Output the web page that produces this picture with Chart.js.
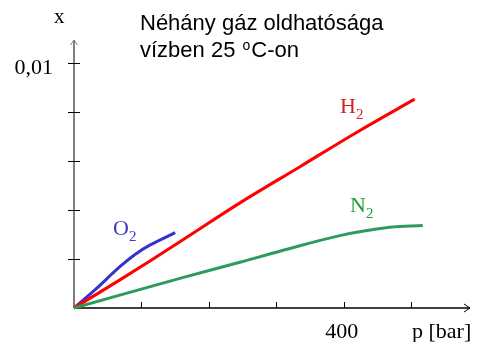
<!DOCTYPE html>
<html><head><meta charset="utf-8">
<script src="https://cdn.jsdelivr.net/npm/chart.js@4"></script>
<style>html,body{margin:0;padding:0;background:#fff}canvas{display:block}</style>
</head><body>
<canvas id="c" width="478" height="342"></canvas>
<script>
// ---- data ----
const titleLine1 = "Néhány gáz oldhatósága";
const titleLine2 = ["vízben 25 ", "o", "C-on"];
const yAxisTitle = "x";
const xAxisTitle = "p [bar]";
const xTicks = [100, 200, 300, 400, 500];
const xTickLabels = ["", "", "", "400", ""];
const yTicks = [0.002, 0.004, 0.006, 0.008, 0.01];
const yTickLabels = ["", "", "", "", "0,01"];

const h2Pressure = [0, 68, 157, 246, 335, 420, 505];
const h2Fraction = [0, 0.00115, 0.00271, 0.0043, 0.00578, 0.0072, 0.00854];
const o2Pressure = [0, 31, 68, 90, 113, 150];
const o2Fraction = [0, 0.00074, 0.00169, 0.00218, 0.00258, 0.00308];
const n2Pressure = [0, 157, 246, 305, 394, 468, 517];
const n2Fraction = [0, 0.00121, 0.00187, 0.00232, 0.00296, 0.0033, 0.00337];

const seriesNames = ["H", "O", "N"];
const seriesSub = "2";

const pts = (xs, ys) => xs.map((x, i) => ({x: x, y: ys[i]}));

const SERIF = '"Liberation Serif", "Times New Roman", serif';
const SANS = '"Liberation Sans", Arial, sans-serif';

const decor = {
  id: 'decor',
  beforeDatasetsDraw(chart) {
    const {ctx, chartArea: a, scales: {x, y}} = chart;
    const x0 = x.getPixelForValue(0), y0 = y.getPixelForValue(0);
    ctx.save();
    // y axis (grey) with arrow
    ctx.strokeStyle = '#808080'; ctx.lineWidth = 2;
    ctx.beginPath(); ctx.moveTo(x0, y0); ctx.lineTo(x0, a.top); ctx.stroke();
    ctx.lineWidth = 1;
    ctx.beginPath(); ctx.moveTo(x0 - 3.5, a.top + 5); ctx.lineTo(x0, a.top); ctx.lineTo(x0 + 3.5, a.top + 5); ctx.stroke();
    // x axis (black) with arrow
    ctx.strokeStyle = '#000'; ctx.lineWidth = 1.5;
    ctx.beginPath(); ctx.moveTo(x0, y0); ctx.lineTo(a.right, y0); ctx.stroke();
    ctx.lineWidth = 1;
    ctx.beginPath(); ctx.moveTo(a.right - 6, y0 - 4); ctx.lineTo(a.right, y0); ctx.lineTo(a.right - 6, y0 + 4); ctx.stroke();
    // ticks
    ctx.lineWidth = 1;
    yTicks.forEach(v => {
      const py = Math.round(y.getPixelForValue(v)) + 0.5;
      ctx.beginPath(); ctx.moveTo(x0 - 6, py); ctx.lineTo(x0 + 6, py); ctx.stroke();
    });
    xTicks.forEach(v => {
      const px = Math.round(x.getPixelForValue(v)) + 0.5;
      ctx.beginPath(); ctx.moveTo(px, y0); ctx.lineTo(px, y0 - 6); ctx.stroke();
    });
    ctx.restore();
  },
  afterDraw(chart) {
    const {ctx, chartArea: a, scales: {x, y}} = chart;
    const x0 = x.getPixelForValue(0), y0 = y.getPixelForValue(0);
    ctx.save();
    ctx.fillStyle = '#000';
    // tick labels
    ctx.font = '22px ' + SERIF;
    ctx.textBaseline = 'alphabetic';
    ctx.textAlign = 'right';
    yTicks.forEach((v, i) => {
      if (yTickLabels[i]) ctx.fillText(yTickLabels[i], x0 - 21, y.getPixelForValue(v) + 11);
    });
    ctx.textAlign = 'center';
    xTicks.forEach((v, i) => {
      if (xTickLabels[i]) ctx.fillText(xTickLabels[i], x.getPixelForValue(v) - 2, y0 + 30);
    });
    // axis titles
    ctx.textAlign = 'left';
    ctx.fillText(xAxisTitle, 412, y0 + 30);
    ctx.font = '21px ' + SERIF;
    ctx.fillText(yAxisTitle, 54, 23);
    // title
    ctx.font = '22px ' + SANS;
    ctx.fillText(titleLine1, 140, 30);
    let tx = 140;
    ctx.fillText(titleLine2[0], tx, 57); tx += ctx.measureText(titleLine2[0]).width;
    ctx.font = '14px ' + SANS;
    ctx.fillText(titleLine2[1], tx + 1, 50); tx += ctx.measureText(titleLine2[1]).width + 2;
    ctx.font = '22px ' + SANS;
    ctx.fillText(titleLine2[2], tx, 57);
    // series labels
    const lab = (name, px, py, col) => {
      ctx.fillStyle = col;
      ctx.font = '22px ' + SERIF;
      ctx.fillText(name, px, py);
      const w = ctx.measureText(name).width;
      ctx.font = '15px ' + SERIF;
      ctx.fillText(seriesSub, px + w, py + 6);
    };
    lab(seriesNames[0], 340, 113, '#d42020');
    lab(seriesNames[1], 113, 235, '#3c3cc8');
    lab(seriesNames[2], 350, 212, '#22a040');
    ctx.restore();
  }
};

const ds = (label, data, color) => ({
  label, data, borderColor: color, borderWidth: 3, pointRadius: 0,
  fill: false, tension: 0.35, clip: false
});

new Chart(document.getElementById('c'), {
  type: 'line',
  data: {
    datasets: [
      ds('N2', pts(n2Pressure, n2Fraction), '#2e9a5c'),
      ds('H2', pts(h2Pressure, h2Fraction), '#ff0000'),
      ds('O2', pts(o2Pressure, o2Fraction), '#3333cc')
    ]
  },
  options: {
    responsive: false,
    animation: false,
    devicePixelRatio: 1,
    layout: {padding: {left: 74, right: 8, top: 40, bottom: 34}},
    plugins: {legend: {display: false}, tooltip: {enabled: false}, title: {display: false}},
    scales: {
      x: {type: 'linear', min: 0, max: 587, display: false},
      y: {type: 'linear', min: 0, max: 0.01096, display: false}
    }
  },
  plugins: [decor]
});
</script>
</body></html>
